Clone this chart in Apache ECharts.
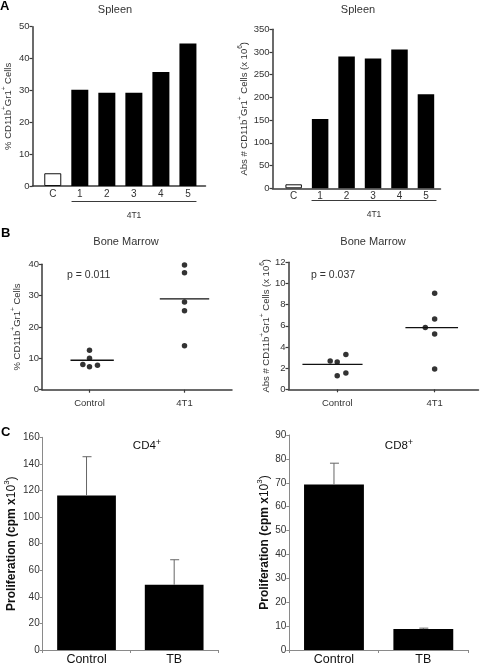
<!DOCTYPE html>
<html><head><meta charset="utf-8">
<script src="https://cdn.jsdelivr.net/npm/echarts@6/dist/echarts.min.js"></script>
<style>html,body{margin:0;padding:0;background:#fff}#c{width:480px;height:666px}</style>
</head><body><div id="c"></div>
<script>
// ---------- DATA ----------
const spleenCats = ['C', '1', '2', '3', '4', '5'];
const spleenPct = [4.0, 30.2, 29.3, 29.3, 35.8, 44.7];
const spleenAbs = [8.8, 152.6, 290, 285.6, 305.4, 207];
const spleenPctTicks = [0, 10, 20, 30, 40, 50];
const spleenAbsTicks = [0, 50, 100, 150, 200, 250, 300, 350];

const bmGroups = ['Control', '4T1'];
const bmPctControl = [12.6, 10.0, 8.0, 7.3, 7.8];
const bmPctControlJitter = [0, 0, -0.07, 0, 0.084];
const bmPct4T1 = [39.8, 37.3, 28.0, 25.2, 14.0];
const bmPct4T1Jitter = [0, 0, 0, 0, 0];
const bmPctMedians = [9.4, 29.0];
const bmAbsControl = [2.68, 2.58, 3.3, 1.29, 1.54];
const bmAbsControlJitter = [-0.072, 0, 0.089, 0, 0.089];
const bmAbs4T1 = [9.07, 6.64, 5.83, 5.23, 1.92];
const bmAbs4T1Jitter = [0, 0, -0.096, 0, 0];
const bmAbsMedians = [2.36, 5.82];
const pValues = ['p = 0.011', 'p = 0.037'];

const prolCats = ['Control', 'TB'];
const cd4Mean = [116.3, 49.1];
const cd4Err = [29.1, 18.8];
const cd8Mean = [69.3, 8.75];
const cd8Err = [8.9, 0.4];

// ---------- STYLE ----------
const FONT = 'Liberation Sans, Arial, sans-serif';
const AX = '#3a3a3a';
const TXT = '#333';
const CAX = '#8a8a8a';

function supRich(base, sup) {
  return {
    n: {fontSize: base, lineHeight: base + 3, verticalAlign: 'bottom', fontFamily: FONT, color: TXT},
    s: {fontSize: sup, lineHeight: sup, verticalAlign: 'top', fontFamily: FONT, color: TXT},
    b: {fontSize: base, lineHeight: base + 3, verticalAlign: 'bottom', fontFamily: FONT, color: '#111', fontWeight: 'bold'},
    bs: {fontSize: sup, lineHeight: sup, verticalAlign: 'top', fontFamily: FONT, color: '#111'},
    bn: {fontSize: base, lineHeight: base + 3, verticalAlign: 'bottom', fontFamily: FONT, color: '#111'}
  };
}
const cdLabel = '{n|% CD11b}{s|+}{n|Gr1}{s|+}{n| Cells}';
const absLabel = '{n|Abs # CD11b}{s|+}{n|Gr1}{s|+}{n| Cells (x 10}{s|6}{n|)}';
const prolLabel = '{b|Proliferation (cpm x}{bn|10}{bs|3}{bn|)}';

function valY(gi, min, max, interval, name, gap, fs, color, lw) {
  const big = fs === 10;
  return {
    type: 'value', gridIndex: gi, min: min, max: max, interval: interval,
    axisLine: {show: true, onZero: false, lineStyle: {color: color, width: lw}},
    axisTick: {show: true, length: 3, lineStyle: {color: color, width: lw > 1 ? 1.2 : 1}},
    axisLabel: {fontSize: fs, color: TXT, fontFamily: FONT, margin: 3},
    splitLine: {show: false},
    name: name, nameLocation: 'middle', nameGap: gap,
    nameTextStyle: {rich: supRich(big ? 12 : 9.5, big ? 8 : 6.5)}
  };
}
function catValX(gi, min, max, cats, showTick, fs, margin) {
  const vals = cats.map((c, i) => i);
  return {
    type: 'value', gridIndex: gi, min: min, max: max,
    axisLine: {show: true, onZero: false, lineStyle: {color: AX, width: 1.5}},
    axisTick: {show: showTick, customValues: vals, length: 3, lineStyle: {color: AX, width: 1.2}},
    axisLabel: {customValues: vals, formatter: v => cats[Math.round(v)], fontSize: fs, color: TXT, fontFamily: FONT, margin: margin},
    splitLine: {show: false}
  };
}
function bracketX(gi) {
  return {
    type: 'value', gridIndex: gi, min: 0, max: 1,
    axisLine: {show: true, onZero: false, lineStyle: {color: AX, width: 1.2}},
    axisTick: {show: false}, axisLabel: {show: false}, splitLine: {show: false},
    name: '4T1', nameLocation: 'middle', nameGap: 10,
    nameTextStyle: {fontSize: 8.5, color: TXT, fontFamily: FONT}
  };
}
function hiddenY(gi) {
  return {type: 'value', gridIndex: gi, show: false, min: 0, max: 1};
}
function catX(gi, cats) {
  return {
    type: 'category', gridIndex: gi, data: cats,
    axisLine: {show: true, lineStyle: {color: CAX, width: 1}},
    axisTick: {show: true, length: 3, lineStyle: {color: CAX}},
    axisLabel: {fontSize: 12.5, color: '#111', fontFamily: FONT, margin: 3},
    splitLine: {show: false}
  };
}

function spleenBars(xi, yi, vals, width) {
  return {
    type: 'bar', xAxisIndex: xi, yAxisIndex: yi, barWidth: width,
    data: vals.map((v, i) => ({
      value: [i, v],
      itemStyle: i === 0 ? {color: '#fff', borderColor: '#111', borderWidth: 1} : {color: '#000'}
    }))
  };
}
function dots(xi, yi, g, vals, jit) {
  return {
    type: 'scatter', xAxisIndex: xi, yAxisIndex: yi, symbolSize: 5.5,
    itemStyle: {color: '#000'},
    data: vals.map((v, i) => [g + jit[i], v])
  };
}
function median(xi, yi, g, m, lo, hi) {
  return {
    type: 'line', xAxisIndex: xi, yAxisIndex: yi, symbol: 'none',
    lineStyle: {color: '#111', width: 1.3},
    data: [[g + lo, m], [g + hi, m]]
  };
}
function errBars(xi, yi, mean, err) {
  return {
    type: 'custom', xAxisIndex: xi, yAxisIndex: yi, z: 5,
    data: mean.map((m, i) => [i, m, m + err[i]]),
    encode: {x: 0, y: [1, 2]},
    renderItem: function (params, api) {
      const b = api.coord([api.value(0), api.value(1)]);
      const t = api.coord([api.value(0), api.value(2)]);
      const st = {stroke: '#666', lineWidth: 1};
      return {
        type: 'group', children: [
          {type: 'line', shape: {x1: b[0], y1: b[1], x2: t[0], y2: t[1]}, style: st},
          {type: 'line', shape: {x1: t[0] - 4, y1: t[1], x2: t[0] + 5, y2: t[1]}, style: st}
        ]
      };
    }
  };
}
function proBars(xi, yi, vals) {
  return {
    type: 'bar', xAxisIndex: xi, yAxisIndex: yi, barWidth: '67%',
    itemStyle: {color: '#000'}, data: vals
  };
}
const supTitle = {
  fontWeight: 'normal',
  rich: {
    a: {fontSize: 11.5, lineHeight: 14, verticalAlign: 'bottom', color: '#111', fontFamily: FONT, fontWeight: 'normal'},
    s: {fontSize: 9, lineHeight: 9, verticalAlign: 'top', color: '#111', fontFamily: FONT, fontWeight: 'normal'}
  }
};
const plainTitle = {fontSize: 11, fontWeight: 'normal', color: TXT, fontFamily: FONT};

const option = {
  animation: false,
  backgroundColor: '#fff',
  textStyle: {fontFamily: FONT},
  title: [
    {text: 'Spleen', left: 110, top: -1, textAlign: 'center', textStyle: plainTitle},
    {text: 'Spleen', left: 353, top: -1, textAlign: 'center', textStyle: plainTitle},
    {text: 'Bone Marrow', left: 121, top: 231, textAlign: 'center', textStyle: plainTitle},
    {text: 'Bone Marrow', left: 368, top: 231, textAlign: 'center', textStyle: plainTitle},
    {text: '{a|CD4}{s|+}', left: 142, top: 433, textAlign: 'center', textStyle: supTitle},
    {text: '{a|CD8}{s|+}', left: 394, top: 433, textAlign: 'center', textStyle: supTitle}
  ],
  graphic: [
    {type: 'text', left: 0, top: 0, style: {text: 'A', font: 'bold 13px ' + FONT, fill: '#000'}},
    {type: 'text', left: 1, top: 227, style: {text: 'B', font: 'bold 13px ' + FONT, fill: '#000'}},
    {type: 'text', left: 1, top: 426, style: {text: 'C', font: 'bold 13px ' + FONT, fill: '#000'}},
    {type: 'text', left: 67, top: 270, style: {text: pValues[0], font: '10.5px ' + FONT, fill: TXT}},
    {type: 'text', left: 311, top: 270, style: {text: pValues[1], font: '10.5px ' + FONT, fill: TXT}}
  ],
  grid: [
    {left: 30.5, top: 26.7, width: 175, height: 159.3},
    {left: 272.5, top: 29.3, width: 168, height: 159},
    {left: 42, top: 264.3, width: 190, height: 125.4},
    {left: 288.5, top: 262.3, width: 190, height: 127},
    {left: 42.7, top: 437.3, width: 175.3, height: 215.4},
    {left: 289.3, top: 435, width: 178.7, height: 219},
    {left: 72, top: 200, width: 124, height: 1},
    {left: 312, top: 199.5, width: 124, height: 1}
  ],
  xAxis: [
    catValX(0, -0.75, 5.65, spleenCats, false, 10, 3),
    catValX(1, -0.8, 5.55, spleenCats, false, 10, 3),
    catValX(2, -0.5, 1.5, bmGroups, true, 9.5, 9),
    catValX(3, -0.5, 1.45, bmGroups, true, 9.5, 9),
    catX(4, prolCats),
    catX(5, prolCats),
    bracketX(6),
    bracketX(7)
  ],
  yAxis: [
    valY(0, spleenPctTicks[0], spleenPctTicks[spleenPctTicks.length - 1], 10, cdLabel, 19, 9.5, AX, 1.5),
    valY(1, spleenAbsTicks[0], spleenAbsTicks[spleenAbsTicks.length - 1], 50, absLabel, 23, 9.5, AX, 1.5),
    valY(2, 0, 40, 10, cdLabel, 20, 9.5, AX, 1.5),
    valY(3, 0, 12, 2, absLabel, 17, 9.5, AX, 1.5),
    valY(4, 0, 160, 20, prolLabel, 25, 10, CAX, 1),
    valY(5, 0, 90, 10, prolLabel, 19, 10, CAX, 1),
    hiddenY(6),
    hiddenY(7)
  ],
  series: [
    spleenBars(0, 0, spleenPct, 17),
    spleenBars(1, 1, spleenAbs, 16.5),
    dots(2, 2, 0, bmPctControl, bmPctControlJitter),
    dots(2, 2, 1, bmPct4T1, bmPct4T1Jitter),
    median(2, 2, 0, bmPctMedians[0], -0.2, 0.256),
    median(2, 2, 1, bmPctMedians[1], -0.26, 0.26),
    dots(3, 3, 0, bmAbsControl, bmAbsControlJitter),
    dots(3, 3, 1, bmAbs4T1, bmAbs4T1Jitter),
    median(3, 3, 0, bmAbsMedians[0], -0.357, 0.26),
    median(3, 3, 1, bmAbsMedians[1], -0.3, 0.24),
    proBars(4, 4, cd4Mean),
    errBars(4, 4, cd4Mean, cd4Err),
    proBars(5, 5, cd8Mean),
    errBars(5, 5, cd8Mean, cd8Err)
  ]
};
const chart = echarts.init(document.getElementById('c'), null, {renderer: 'canvas'});
chart.setOption(option);
</script>
</body></html>
